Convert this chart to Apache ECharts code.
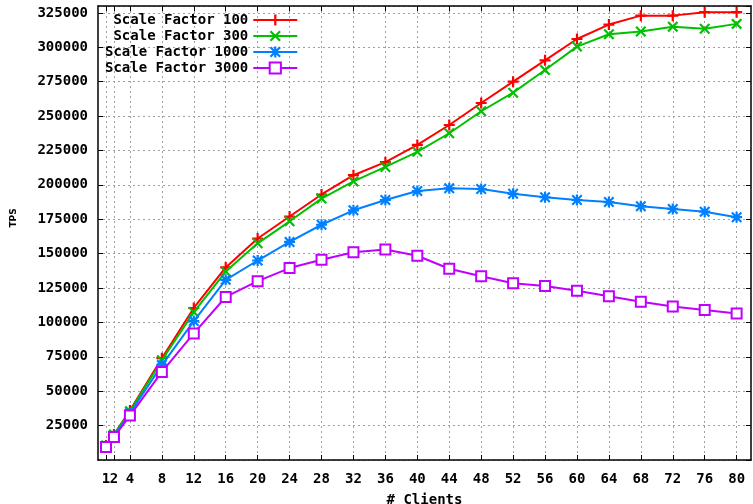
<!DOCTYPE html>
<html>
<head>
<meta charset="utf-8">
<script src="https://cdn.jsdelivr.net/npm/echarts@6/dist/echarts.min.js"></script>
<style>
html,body{margin:0;padding:0;background:#fff;}
#chart{width:753px;height:504px;}
</style>
</head>
<body>
<div id="chart"></div>
<script>
const clients = [1,2,4,8,12,16,20,24,28,32,36,40,44,48,52,56,60,64,68,72,76,80];
const xTicks = [1,2,4,8,12,16,20,24,28,32,36,40,44,48,52,56,60,64,68,72,76,80];
const seriesNames = ['Scale Factor 100','Scale Factor 300','Scale Factor 1000','Scale Factor 3000'];
const sf100 = [10500,18500,36000,74000,110500,140000,161000,177000,193000,207000,216500,229000,243500,259500,275000,290500,306000,316500,323000,323000,325500,325500];
const sf300 = [10500,18500,35500,72500,107500,137000,157500,173500,190000,202500,213000,224000,237500,253500,267000,283500,300500,309500,311500,315000,313500,317000];
const sf1000 = [10000,17500,34000,69000,101000,131000,145000,158500,171000,181500,189000,195500,197500,197000,193500,191000,189000,187500,184500,182500,180500,176500];
const sf3000 = [9500,16800,32300,64000,92000,118500,130000,139500,145500,151000,153000,148500,139000,133500,128500,126500,123000,119000,115000,111500,109000,106500];

// labels 1 and 2 sit so close together that they are drawn on two label rows of the same scale
const xLabelsA = xTicks.filter(v => v !== 1);
const xLabelsB = xTicks.filter(v => v === 1);

const colors = ['#ff0000','#00c000','#0080ff','#c000ff'];
const PLUS = 'path://M4,0H6V4H10V6H6V10H4V6H0V4H4Z';
const CROSS = 'path://M0,1.4L1.4,0L5,3.6L8.6,0L10,1.4L6.4,5L10,8.6L8.6,10L5,6.4L1.4,10L0,8.6L3.6,5Z';
const STAR = 'path://M4,0H6V4H10V6H6V10H4V6H0V4H4Z M0,1.4L1.4,0L5,3.6L8.6,0L10,1.4L6.4,5L10,8.6L8.6,10L5,6.4L1.4,10L0,8.6L3.6,5Z';
const symbols = [PLUS, CROSS, STAR, 'emptyRect'];
const sizes = [11, 11, 11, 10];
const values = [sf100, sf300, sf1000, sf3000];

const FONT = '"DejaVu Sans Mono", monospace';
const gridLine = {show:true, lineStyle:{color:'#a0a0a0', type:[2,3], width:1}};
const frame = {show:true, onZero:false, lineStyle:{color:'#000', width:1.5}};
const labelStyle = {margin:12, fontFamily:FONT, fontWeight:'bold', fontSize:14, color:'#000', formatter:v=>String(v)};

const chart = echarts.init(document.getElementById('chart'), null, {renderer:'canvas'});
chart.setOption({
  animation:false,
  backgroundColor:'#fff',
  grid:{left:98, right:2, top:6, bottom:44, containLabel:false, outerBoundsMode:'none'},
  legend:{
    orient:'vertical', left:100, top:8, align:'right',
    itemWidth:44, itemHeight:14, itemGap:2,
    data: seriesNames,
    formatter: n => n.padStart(17, ' '),
    textStyle:{fontFamily:FONT, fontWeight:'bold', fontSize:14, color:'#000'}
  },
  xAxis:[{
    type:'value', position:'bottom', min:0, max:81.8,
    axisLine:frame,
    axisTick:{show:true, inside:true, length:5, customValues:xTicks, lineStyle:{color:'#000', width:1}},
    axisLabel:Object.assign({customValues:xLabelsA, interval:0}, labelStyle),
    splitLine:gridLine,
    name:'# Clients', nameLocation:'middle', nameGap:33,
    nameTextStyle:{fontFamily:FONT, fontWeight:'bold', fontSize:14, color:'#000'}
  },{
    type:'value', position:'top', min:0, max:81.8,
    axisLine:frame,
    axisTick:{show:true, inside:true, length:5, customValues:xTicks, lineStyle:{color:'#000', width:1}},
    axisLabel:{show:false}, splitLine:{show:false}
  },{
    type:'value', position:'bottom', min:0, max:81.8, offset:0,
    axisLine:{show:false}, axisTick:{show:false}, splitLine:{show:false},
    axisLabel:Object.assign({customValues:xLabelsB, interval:0}, labelStyle)
  }],
  yAxis:[{
    type:'value', position:'left', min:0, max:330000, interval:25000,
    axisLine:frame,
    axisTick:{show:true, inside:true, length:5, lineStyle:{color:'#000', width:1}},
    axisLabel:{showMinLabel:false, showMaxLabel:false, margin:10, fontFamily:FONT, fontWeight:'bold', fontSize:14, color:'#000', formatter:v=>String(v)},
    splitLine:gridLine
  },{
    type:'value', position:'right', min:0, max:330000, interval:25000,
    axisLine:frame,
    axisTick:{show:true, inside:true, length:5, lineStyle:{color:'#000', width:1}},
    axisLabel:{show:false}, splitLine:{show:false}
  }],
  graphic:[{
    type:'text', x:14, y:218, rotation:Math.PI/2,
    style:{text:'TPS', fill:'#000', font:'bold 9px "DejaVu Sans"', align:'center', verticalAlign:'middle'}
  }],
  series: seriesNames.map((name,i)=>({
    name, type:'line', xAxisIndex:0, yAxisIndex:0,
    data: clients.map((c,j)=>[c, values[i][j]]),
    symbol: symbols[i], symbolSize: sizes[i],
    lineStyle:{color:colors[i], width:2},
    itemStyle:{color:colors[i], borderWidth: i===3 ? 1.5 : 0},
    z: 2+i
  }))
});
</script>
</body>
</html>
